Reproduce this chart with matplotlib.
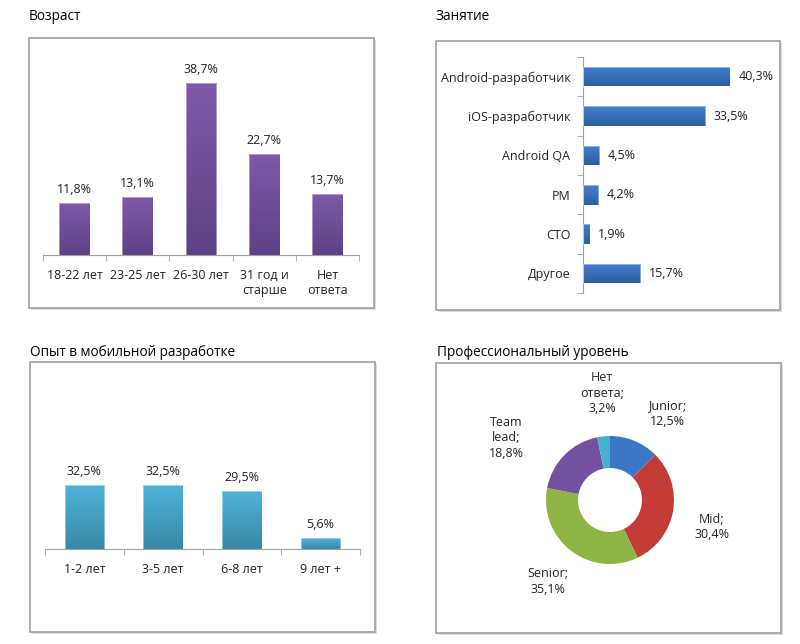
import matplotlib
matplotlib.use("Agg")
import matplotlib.pyplot as plt
import numpy as np
from matplotlib.colors import LinearSegmentedColormap
from matplotlib.patches import Rectangle

plt.rcParams['font.family'] = ['Open Sans', 'DejaVu Sans']

# ---- data ----
age_labels = ["18-22 лет", "23-25 лет", "26-30 лет", "31 год и\nстарше", "Нет\nответа"]
age_values = [11.8, 13.1, 38.7, 22.7, 13.7]

job_labels = ["Android-разработчик", "iOS-разработчик", "Android QA", "PM", "CTO", "Другое"]
job_values = [40.3, 33.5, 4.5, 4.2, 1.9, 15.7]

exp_labels = ["1-2 лет", "3-5 лет", "6-8 лет", "9 лет +"]
exp_values = [32.5, 32.5, 29.5, 5.6]

lvl_labels = ["Junior", "Mid", "Senior", "Team\nlead", "Нет\nответа"]
lvl_values = [12.5, 30.4, 35.1, 18.8, 3.2]

titles = ["Возраст", "Занятие", "Опыт в мобильной разработке", "Профессиональный уровень"]

W, H = 800, 644
fig = plt.figure(figsize=(W / 100, H / 100), dpi=100)
fig.patch.set_facecolor("white")


def rect(x0, y0, x1, y1):
    return [x0 / W, 1 - y1 / H, (x1 - x0) / W, (y1 - y0) / H]


def frame(x0, y0, x1, y1):
    fig.patches.append(Rectangle((x0 / W + 2 / W, 1 - y1 / H - 2 / H), (x1 - x0) / W, (y1 - y0) / H,
                                 transform=fig.transFigure, facecolor="#dcdcdc", edgecolor="none",
                                 zorder=-3))
    fig.patches.append(Rectangle((x0 / W, 1 - y1 / H), (x1 - x0) / W, (y1 - y0) / H,
                                 transform=fig.transFigure, facecolor="white", edgecolor="#a0a0a0",
                                 linewidth=1.2, zorder=-2))


def gradient_bars(ax, bars, top, bottom):
    cmap = LinearSegmentedColormap.from_list("g", [bottom, top])
    for b in bars:
        x, y = b.get_x(), b.get_y()
        w, h = b.get_width(), b.get_height()
        grad = np.linspace(0, 1, 64).reshape(-1, 1)
        extent = (x, x + w, y, y + h)
        im = ax.imshow(grad, cmap=cmap, extent=extent, origin="lower", aspect="auto", zorder=2)
        im.set_clip_path(b)
        b.set_facecolor("none")
        b.set_edgecolor((1, 1, 1, 0.5))
        b.set_linewidth(0.6)
        b.set_zorder(3)


TXT = "#222222"
FS = 9
title_kw = dict(fontsize=9.8, color="#000000", fontweight="normal", va="center", ha="left")

# ---------------- Panel 1: Возраст ----------------
fig.text(29 / W, 1 - 16 / H, titles[0], **title_kw)
frame(29, 38, 374, 308)
ax1 = fig.add_axes(rect(43, 55, 359, 255))
x = np.arange(len(age_values))
bars = ax1.bar(x, age_values, width=0.49)
gradient_bars(ax1, bars, "#7d59aa", "#5c4284")
ax1.set_xlim(-0.5, len(age_values) - 0.5)
ax1.set_ylim(0, 45)
for xi, v in zip(x, age_values):
    ax1.annotate(f"{v:.1f}%".replace(".", ","), (xi, v), xytext=(0, 5), textcoords="offset points",
                 ha="center", va="bottom", fontsize=FS, color=TXT)
ax1.set_xticks(x)
ax1.set_xticklabels(age_labels, fontsize=FS, color=TXT, linespacing=1.25)
ax1.set_xticks(np.arange(-0.5, len(age_values)), minor=True)
ax1.tick_params(axis="x", which="major", length=0, pad=10)
ax1.tick_params(axis="x", which="minor", length=4, color="#a0a0a0")
ax1.set_yticks([])
for s in ["top", "right", "left"]:
    ax1.spines[s].set_visible(False)
ax1.spines["bottom"].set_color("#a0a0a0")
ax1.patch.set_alpha(0)

# ---------------- Panel 2: Занятие ----------------
fig.text(435 / W, 1 - 16 / H, titles[1], **title_kw)
frame(436, 41, 780, 310)
ax2 = fig.add_axes(rect(583, 57, 747, 293))
y = np.arange(len(job_values))
bars = ax2.barh(y, job_values, height=0.5)
gradient_bars(ax2, bars, "#2e5d9e", "#4080d0")
ax2.set_ylim(len(job_values) - 0.5, -0.5)
ax2.set_xlim(0, 45)
for yi, v in zip(y, job_values):
    ax2.annotate(f"{v:.1f}%".replace(".", ","), (v, yi), xytext=(6, 0), textcoords="offset points",
                 ha="left", va="center", fontsize=FS, color=TXT)
ax2.set_yticks(y)
ax2.set_yticklabels(job_labels, fontsize=FS, color=TXT)
ax2.set_yticks(np.arange(-0.5, len(job_values)), minor=True)
ax2.tick_params(axis="y", which="major", length=0, pad=9)
ax2.tick_params(axis="y", which="minor", length=4, color="#a0a0a0")
ax2.set_xticks([])
for s in ["top", "right", "bottom"]:
    ax2.spines[s].set_visible(False)
ax2.spines["left"].set_color("#a0a0a0")
ax2.patch.set_alpha(0)

# ---------------- Panel 3: Опыт ----------------
fig.text(30 / W, 1 - 352 / H, titles[2], **title_kw)
frame(30, 362, 375, 632)
ax3 = fig.add_axes(rect(45, 411, 360, 549))
x = np.arange(len(exp_values))
bars = ax3.bar(x, exp_values, width=0.5)
gradient_bars(ax3, bars, "#4fb4da", "#3889a6")
ax3.set_xlim(-0.5, len(exp_values) - 0.5)
ax3.set_ylim(0, 70)
for xi, v in zip(x, exp_values):
    ax3.annotate(f"{v:.1f}%".replace(".", ","), (xi, v), xytext=(0, 5), textcoords="offset points",
                 ha="center", va="bottom", fontsize=FS, color=TXT)
ax3.set_xticks(x)
ax3.set_xticklabels(exp_labels, fontsize=FS, color=TXT)
ax3.set_xticks(np.arange(-0.5, len(exp_values)), minor=True)
ax3.tick_params(axis="x", which="major", length=0, pad=10)
ax3.tick_params(axis="x", which="minor", length=4, color="#a0a0a0")
ax3.set_yticks([])
for s in ["top", "right", "left"]:
    ax3.spines[s].set_visible(False)
ax3.spines["bottom"].set_color("#a0a0a0")
ax3.patch.set_alpha(0)

# ---------------- Panel 4: Профессиональный уровень ----------------
fig.text(437 / W, 1 - 353 / H, titles[3], **title_kw)
frame(436, 363, 781, 633)
ax4 = fig.add_axes(rect(530, 420, 690, 580))
lvl_colors = ["#3b77c4", "#c43b38", "#8db545", "#7151a0", "#46b0d0"]
wedges, _ = ax4.pie(lvl_values, colors=lvl_colors, startangle=90, counterclock=False,
                    radius=1.0, wedgeprops=dict(width=0.5, edgecolor="none"))
ax4.set_xlim(-1.25, 1.25)
ax4.set_ylim(-1.25, 1.25)
ax4.set_aspect("equal")
ax4.axis("off")
# label positions (layout) in donut units
lbl_pos = [(0.90, 1.35), (1.59, -0.42), (-0.97, -1.27), (-1.62, 0.97), (-0.12, 1.67)]
for name, v, (lx, ly) in zip(lvl_labels, lvl_values, lbl_pos):
    ax4.text(lx, ly, f"{name};\n{v:.1f}%".replace(".", ","), ha="center", va="center",
             fontsize=FS, color=TXT, linespacing=1.25, clip_on=False)

fig.savefig("out.png", dpi=100, facecolor="white")
